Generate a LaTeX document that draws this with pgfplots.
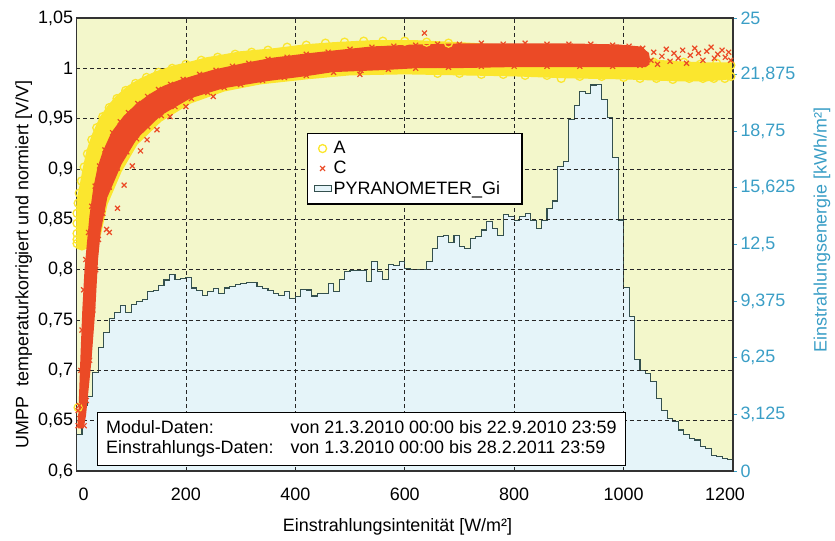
\documentclass[border=0pt]{standalone}
\usepackage{pgfplots}
\pgfplotsset{compat=1.18}
\usepackage{fontspec}
\setmainfont{Liberation Sans}
\definecolor{bg}{HTML}{F3F7CB}
\definecolor{histfill}{HTML}{E5F4F9}
\definecolor{histline}{HTML}{34504E}
\definecolor{yelA}{HTML}{FBE62E}
\definecolor{redC}{HTML}{EB4A26}
\definecolor{cyanax}{HTML}{3A9EC6}
\newcommand{\f}{\fontsize{18}{21}\selectfont}

\begin{document}
\begin{tikzpicture}
\useasboundingbox (-76.5bp,-70bp) rectangle (758.5bp,471bp);

% right axis: irradiation histogram
\begin{axis}[
  at={(0,0)}, anchor=south west,
  scale only axis, width=656.5bp, height=453bp,
  xmin=0, xmax=1200, ymin=0, ymax=25,
  axis y line*=right, hide x axis,
  axis line style={draw=none},
  axis background/.style={fill=bg},
  ytick={0,3.125,6.25,9.375,12.5,15.625,18.75,21.875,25},
  yticklabels={0,{3,125},{6,25},{9,375},{12,5},{15,625},{18,75},{21,875},25},
  yticklabel style={cyanax, font=\f},
  ytick style={cyanax, line width=0.9bp},
  tick align=outside, major tick length=4bp,
  every axis y label/.style={at={([xshift=77bp]axis description cs:1,0.532)}, rotate=90, anchor=north, font=\f, cyanax},
  ylabel={Einstrahlungsenergie [kWh/m²]},
]
\addplot[const plot mark left, fill=histfill, draw=histline, line width=1.1bp] coordinates {
(0,2.0) (10,3.6) (20,4.1) (30,5.45) (40,6.8) (50,7.65) (60,8.4) (70,8.75) (80,9.15) (90,8.75)
(100,9.2) (110,9.35) (120,9.45) (130,9.9) (140,9.95) (150,10.26) (160,10.54) (170,10.82) (180,10.58) (190,10.63)
(200,10.7) (210,10.1) (220,9.95) (230,9.7) (240,9.9) (250,10.05) (260,9.8) (270,10.1) (280,10.2) (290,10.3)
(300,10.36) (310,10.41) (320,10.41) (330,10.17) (340,10.08) (350,9.95) (360,9.8) (370,9.71) (380,9.93) (390,9.53)
(400,9.62) (410,10.02) (420,9.99) (430,9.66) (440,9.8) (450,9.8) (460,10.36) (470,9.9) (480,10.58) (490,11.0)
(500,11.06) (510,11.06) (520,11.06) (530,10.45) (540,11.55) (550,11.0) (560,10.58) (570,11.4) (580,11.33) (590,11.55)
(600,11.2) (610,11.1) (620,11.1) (630,11.1) (640,11.55) (650,12.29) (660,12.93) (670,13.0) (680,12.6) (690,13.0)
(700,12.4) (710,12.29) (720,12.84) (730,12.93) (740,13.3) (750,13.77) (760,13.4) (770,13.0) (780,14.14) (790,14.05)
(800,13.8) (810,14.05) (820,14.2) (830,13.8) (840,13.4) (850,13.8) (860,14.5) (870,14.9) (880,16.8) (890,17.1)
(900,19.4) (910,20.15) (920,20.95) (930,20.85) (940,21.3) (950,21.35) (960,20.5) (970,19.5) (980,17.3) (990,13.85)
(1000,10.14) (1010,8.52) (1020,6.13) (1030,5.57) (1040,5.39) (1050,4.93) (1060,4.01) (1070,3.36) (1080,2.91) (1090,2.72)
(1100,2.26) (1110,1.99) (1120,1.80) (1130,1.71) (1140,1.34) (1150,1.25) (1160,0.88) (1170,0.79) (1180,0.70) (1190,0.61)
(1200,0.61)
} \closedcycle;
\end{axis}

% left axis: normalised MPP voltage
\begin{axis}[
  at={(0,0)}, anchor=south west,
  scale only axis, width=656.5bp, height=453bp,
  xmin=0, xmax=1200, ymin=0.6, ymax=1.05,
  xtick={0,200,400,600,800,1000,1200},
  xticklabels={\hspace*{14bp}0,200,400,600,800,1000,1200\hspace*{16bp}},
  ytick={0.6,0.65,0.7,0.75,0.8,0.85,0.9,0.95,1,1.05},
  yticklabels={{0,6},{0,65},{0,7},{0,75},{0,8},{0,85},{0,9},{0,95},1,{1,05}},
  tick label style={font=\f},
  xticklabel style={yshift=-13bp},
  major tick length=0pt,
  xmajorgrids, ymajorgrids,
  grid style={black!85, line width=0.7bp, dash pattern=on 4bp off 3bp},
  axis line style={draw=black!80, line width=1.1bp},
  xlabel={Einstrahlungsintenität [W/m²]},
  xlabel style={at={(axis description cs:0.489,0)}, anchor=north, yshift=-44bp, font=\f},
  every axis y label/.style={at={([xshift=-41bp]axis description cs:0,0.456)}, rotate=90, anchor=south, font=\f},
  ylabel={UMPP\ \ temperaturkorrigiert und normiert [V/V]},
  legend style={at={(0.351,0.746)}, anchor=north west, font=\f, nodes={font=\f}, draw=black, line width=1.2bp,
    fill=white, inner xsep=6bp, inner ysep=6bp, row sep=2bp},
  legend cell align=left,
]
% band of module A
\addplot[fill=yelA, draw=yelA, line width=2bp, forget plot] coordinates {
(0,0.822) (0,0.862) (3,0.872) (7.6,0.884) (13,0.9) (20,0.918) (30,0.934) (44,0.951) (58,0.962)
(74,0.972) (95,0.982) (117,0.989) (145,0.996) (178,1.002) (210,1.006) (238,1.010) (270,1.013)
(300,1.016) (361,1.019) (420,1.023) (470,1.025) (540,1.027) (620,1.027) (700,1.025) (800,1.022)
(900,1.02) (1000,1.015) (1050,1.008) (1100,1.006) (1150,1.005) (1196,1.005) (1196,0.99) (1150,0.988)
(1100,0.988) (1050,0.989) (1000,0.99) (900,0.991) (800,0.993) (700,0.994) (600,0.995) (500,0.994)
(420,0.99) (336,0.985) (270,0.978) (208,0.966) (154,0.948) (110,0.925) (81,0.898) (55,0.865)
(43,0.835) (30,0.826) (20,0.822) (10,0.82) (0,0.822)
};
\addplot[only marks, mark=o, mark size=4bp, yelA, line width=1.3bp] coordinates {
(1,0.826) (1,0.836) (1,0.846) (1,0.856) (3,0.866) (5,0.876) (9,0.888) (14,0.902) (20,0.915)
(28,0.929) (37,0.941) (48,0.952) (60,0.961) (74,0.97) (90,0.978) (108,0.985) (128,0.991)
(150,0.996) (175,1.0) (200,1.004) (228,1.008) (258,1.011) (290,1.014) (320,1.016) (350,1.018)
(385,1.021) (420,1.023) (455,1.025) (490,1.026) (525,1.027) (560,1.027) (600,1.027) (640,1.026)
(680,1.025) (660,0.995) (700,0.995) (740,0.994) (780,0.994) (820,0.993) (860,0.993) (886,0.99)
(920,0.992) (960,0.992) (1000,0.991) (1030,0.99) (1060,0.99) (1090,0.989) (1120,0.99) (1145,0.99)
(1165,0.99) (1185,0.99) (1196,0.992) (1055,1.006) (1085,1.004) (1110,1.006) (1140,1.004)
(1170,1.005) (1196,1.003) (3,0.663) (1,0.83)
};
\addlegendentry{A}
% band of module C
\addplot[fill=redC, draw=redC, line width=1.5bp, forget plot] coordinates {
(3,0.643) (5,0.66) (7,0.69) (9,0.72) (12,0.76) (16,0.80) (20,0.824) (25,0.853) (32,0.881) (40,0.902)
(50,0.918) (65,0.936) (87,0.952) (110,0.964) (135,0.974) (160,0.982) (190,0.988) (220,0.993)
(251,0.998) (311,1.005) (361,1.010) (420,1.014) (470,1.017) (540,1.021) (620,1.023) (700,1.024)
(800,1.024) (900,1.024) (990,1.023) (1030,1.021) (1045,1.015) (1048,1.005) (1040,1.002) (1000,1.002)
(900,1.002) (800,1.002) (700,1.001) (627,1.001) (560,0.999) (469,0.997) (420,0.993) (348,0.988)
(269,0.981) (208,0.971) (154,0.954) (110,0.931) (81,0.905) (55,0.872) (43,0.838) (38,0.81)
(33,0.76) (26,0.71) (20,0.677) (16,0.655) (12,0.643) (3,0.643)
};
\addplot[only marks, mark=x, mark size=3.5bp, redC, line width=1.2bp] coordinates {
(5,0.665) (8,0.70) (10,0.74) (13,0.78) (17,0.81) (22,0.837) (28,0.863) (34,0.883) (42,0.903) (52,0.919)
(66,0.936) (80,0.947) (95,0.956) (112,0.965) (130,0.972) (150,0.979) (172,0.984) (195,0.989)
(225,0.994) (255,0.998) (285,1.002) (315,1.005) (350,1.009) (385,1.011) (420,1.014) (460,1.016)
(500,1.019) (540,1.021) (580,1.022) (620,1.023) (660,1.024) (700,1.024) (740,1.025) (780,1.024)
(820,1.025) (860,1.024) (900,1.024) (940,1.024) (980,1.023) (1010,1.022) (1035,1.02)
(14,0.645) (18,0.67) (24,0.71) (30,0.76) (35,0.80) (40,0.83) (48,0.856) (60,0.882) (75,0.901)
(92,0.917) (110,0.93) (130,0.942) (155,0.953) (180,0.962) (210,0.97) (240,0.976) (270,0.981)
(300,0.984) (340,0.988) (380,0.991) (420,0.993) (470,0.996) (520,0.998) (570,0.999) (620,1.0)
(680,1.001) (740,1.002) (800,1.002) (860,1.002) (920,1.002) (980,1.002) (1030,1.003)
(3,0.645) (3,0.66) (6,0.652) (55,0.84) (60,0.837) (75,0.861) (87,0.884) (102,0.903) (117,0.918)
(129,0.929) (147,0.939) (171,0.952) (200,0.962) (250,0.972) (518,0.994) (636,1.035)
(1050,1.008) (1055,1.016) (1062,1.004) (1070,1.012) (1078,1.019) (1085,1.007) (1092,1.015)
(1100,1.01) (1108,1.018) (1115,1.005) (1122,1.013) (1130,1.02) (1137,1.015) (1145,1.008)
(1152,1.017) (1160,1.021) (1166,1.01) (1172,1.014) (1180,1.018) (1186,1.011) (1192,1.016) (1196,1.008)
};
\addlegendentry{C}
\addlegendimage{area legend, fill=histfill, draw=histline, line width=1.1bp}
\addlegendentry{PYRANOMETER\_Gi\hspace*{14bp}}
\node[draw=black, line width=1.2bp, fill=white, anchor=south west, inner xsep=9bp, inner ysep=6bp, font=\f]
  at (axis description cs:0.0305,0.011) {%
  \begin{tabular}{@{}l@{\hspace{17bp}}l@{}}
  Modul-Daten: & von 21.3.2010 00:00 bis 22.9.2010 23:59\\[-1bp]
  Einstrahlungs-Daten: & von 1.3.2010 00:00 bis 28.2.2011 23:59
  \end{tabular}};
\end{axis}
\end{tikzpicture}
\end{document}
